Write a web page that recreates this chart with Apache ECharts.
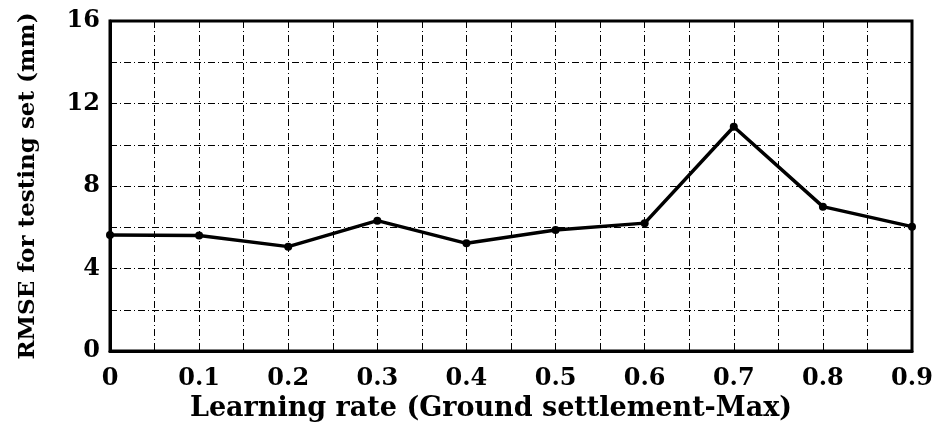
<!DOCTYPE html>
<html>
<head>
<meta charset="utf-8">
<script src="https://cdn.jsdelivr.net/npm/echarts@6/dist/echarts.min.js"></script>
<style>
  html, body { margin: 0; padding: 0; background: #fff; }
  #chart { width: 939px; height: 433px; }
</style>
</head>
<body>
<div id="chart"></div>
<script>
// learning rate vs RMSE
var rates = [0, 0.1, 0.2, 0.3, 0.4, 0.5, 0.6, 0.7, 0.8, 0.9]
var rmse = [5.63, 5.6, 5.06, 6.32, 5.22, 5.87, 6.2, 10.87, 7.0, 6.03]
var yTicks = [0, 4, 8, 12, 16]

var font = 'DejaVu Serif'
var gridLine = { color: '#000', width: 1, type: [7, 3, 1, 3] }

var chart = echarts.init(document.getElementById('chart'))
chart.setOption({
  animation: false,
  grid: {
    left: 110,
    right: 27,
    top: 21,
    bottom: 82,
    show: true,
    borderColor: '#000',
    borderWidth: 3
  },
  xAxis: {
    type: 'value',
    min: 0,
    max: 0.9,
    interval: 0.05,
    name: 'Learning rate (Ground settlement-Max)',
    nameLocation: 'middle',
    nameGap: 40,
    nameTextStyle: {
      fontFamily: font, fontWeight: 'bold', fontSize: 27, color: '#000',
      padding: [0, 40, 0, 0]
    },
    axisLine: { lineStyle: { color: '#000', width: 3 } },
    axisTick: { show: false },
    axisLabel: {
      margin: 16,
      fontFamily: font,
      fontWeight: 'bold',
      fontSize: 24,
      color: '#000',
      formatter: function (v) {
        var k = Math.round(v * 100)
        if (k % 10 !== 0) return ''
        return k === 0 ? '0' : (k / 100).toFixed(1)
      }
    },
    splitLine: { show: true, lineStyle: gridLine }
  },
  yAxis: {
    type: 'value',
    min: 0,
    max: 16,
    interval: 2,
    name: 'RMSE for testing set (mm)',
    nameLocation: 'middle',
    nameGap: 70,
    nameTextStyle: { fontFamily: font, fontWeight: 'bold', fontSize: 23, color: '#000' },
    axisLine: { show: true, lineStyle: { color: '#000', width: 3 } },
    axisTick: { show: false },
    axisLabel: {
      margin: 10,
      fontFamily: font,
      fontWeight: 'bold',
      fontSize: 24,
      color: '#000',
      formatter: function (v) {
        return yTicks.indexOf(v) >= 0 ? String(v) : ''
      }
    },
    splitLine: { show: true, lineStyle: gridLine }
  },
  series: [
    {
      type: 'line',
      data: rates.map(function (r, i) { return [r, rmse[i]] }),
      symbol: 'circle',
      symbolSize: 8,
      itemStyle: { color: '#000' },
      lineStyle: { color: '#000', width: 3.5 }
    }
  ]
})
</script>
</body>
</html>
